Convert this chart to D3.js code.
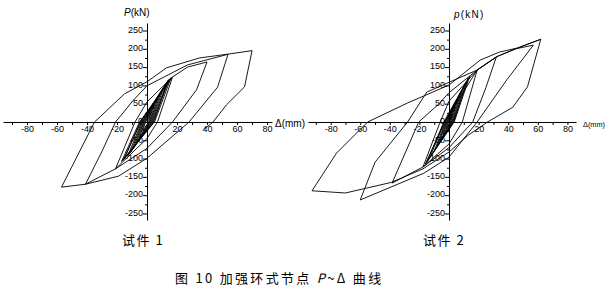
<!DOCTYPE html>
<html><head><meta charset="utf-8">
<script src="https://cdn.jsdelivr.net/npm/d3@7"></script>
<style>body{margin:0;background:#fff}svg{display:block}</style>
</head><body>
<svg id="c" width="612" height="296"></svg>
<script>
// ---- tick values ----
const xTicks = [-90,-80,-70,-60,-50,-40,-30,-20,-10,0,10,20,30,40,50,60,70,80];
const xLabels = [-80,-60,-40,-20,20,40,60,80];
const yTicks = [-250,-225,-200,-175,-150,-125,-100,-75,-50,-25,0,25,50,75,100,125,150,175,200,225,250];
const yLabels = [-250,-200,-150,-100,-50,0,50,100,150,200,250];

// ---- specimen 1 hysteresis path (displacement mm, load kN) ----
const s1Disp = [0,
  3,1,-3,-1, 5,1.5,-5,-1.5, 7,2,-7,-2, 9,2.5,-9,-2.5, 11,3,-11,-3, 13,3.5,-13,-3.5,
  15,4,-16,-4, 14,4.5,-15,-4.5, 16,5,-17,-5,
  17,7,0,-21,-8,0,17,27,40,
  33,17,0,-21,-41,
  -30,-21,-9,0,27,54,
  47,28,0,-19,-41,-57,
  -35,-15,0,13,35,55,70,
  65,53,44,38];
const s1Load = [0,
  28,0,-25,0, 45,0,-41,0, 62,0,-56,0, 78,0,-70,0, 93,0,-83,0, 106,0,-94,0,
  118,0,-105,0, 114,0,-100,0, 121,0,-108,0,
  123,0,-45,-128,0,55,123,150,164,
  88,0,-72,-128,-170,
  -80,0,60,99,156,185,
  95,0,-99,-148,-170,-178,
  0,77,110,148,175,186,195,
  96,47,0,-20];

// ---- specimen 2 hysteresis path ----
const s2Disp = [0,
  2,0.5,-2,-0.5, 4,1,-4,-1, 6,1.5,-6,-1.5, 8,2,-8,-2, 10,2.5,-10,-2.5,
  12,3,-13,-3, 14,3.5,-15,-3.5, 13,3,-16,-3,
  19,9,0,-17.6,-6,0,19,32,
  25,16,0,-17.6,-38.5,
  -20.5,-8,0,19,33,45,57,
  39,19,0,-17,-60,
  -50,-28,-15,19,32,47,62,
  53,43,26,13,0,-17.6,-39,-70,-92.6,
  -76,-55,-28,0,21,34,46,62];
const s2Load = [0,
  22,0,-18,0, 42,0,-34,0, 62,0,-50,0, 80,0,-65,0, 97,0,-80,0,
  112,0,-97,0, 125,0,-110,0, 120,0,-115,0,
  142,0,-60,-123,0,57,142,178,
  95,0,-70,-123,-167,
  0,45,80,142,180,200,210,
  115,0,-96,-140,-213,
  -110,0,82,142,178,203,226,
  96,40,0,-36,-82,-128,-165,-194,-188,
  -85,0,52,101,169,191,202,226];

// ---- captions ----
const axisTitles = [{y:"P", yRest:"(kN)", x:"Δ(mm)"}, {y:"p", yRest:"(kN)", x:"Δ(mm)"}];
const panelNames = ["试件 1", "试件 2"];

const svg = d3.select("#c");
const tickFont = "'Liberation Sans', Arial, sans-serif";

const panels = [
  {disp:s1Disp, load:s1Load, xr:[3,272], xd:[-96,83.3], yr:[220,23], yd:[-267.8,270.5],
   titleX:124, titleY:16, xTitleX:275, xTitleSize:10, xTitleLen:30, spacing:0, nameX:122},
  {disp:s2Disp, load:s2Load, xr:[308,576], xd:[-95.3,85.8], yr:[220,23], yd:[-267.8,270.5],
   titleX:454, titleY:18, xTitleX:583, xTitleSize:8, xTitleLen:22, spacing:1.2, nameX:423}
];

panels.forEach((p, i) => {
  const x = d3.scaleLinear().domain(p.xd).range(p.xr);
  const y = d3.scaleLinear().domain(p.yd).range(p.yr);
  const g = svg.append("g");

  // x axis at load = 0
  const xa = g.append("g").attr("transform", `translate(0,${y(0)})`)
    .call(d3.axisBottom(x).tickValues(xTicks).tickSize(3).tickSizeOuter(0)
      .tickFormat(d => xLabels.includes(d) ? d : ""));
  xa.select(".domain").attr("stroke", "#000").attr("stroke-width", 1);
  xa.selectAll(".tick line").attr("stroke", "#000");
  xa.selectAll(".tick text").attr("font-family", tickFont).attr("font-size", 9)
    .attr("fill", "#000").attr("y", 4);

  // y axis at disp = 0
  const ya = g.append("g").attr("transform", `translate(${x(0)},0)`)
    .call(d3.axisLeft(y).tickValues(yTicks).tickSizeOuter(0)
      .tickSize(0).tickFormat(d => yLabels.includes(d) ? d : ""));
  ya.select(".domain").attr("stroke", "#000").attr("stroke-width", 1);
  ya.selectAll(".tick line").attr("stroke", "#000")
    .attr("x2", d => yLabels.includes(d) ? -4 : -2);
  ya.selectAll(".tick text").attr("font-family", tickFont).attr("font-size", 9)
    .attr("fill", "#000").attr("x", -4).attr("dy", "0.2em");

  // hysteresis curve
  const pts = p.disp.map((d, k) => [d, p.load[k]]);
  g.append("path").datum(pts)
    .attr("fill", "none").attr("stroke", "#000").attr("stroke-width", 0.9)
    .attr("stroke-linejoin", "round")
    .attr("d", d3.line().x(d => x(d[0])).y(d => y(d[1])));

  // axis titles
  const t = g.append("text").attr("x", p.titleX).attr("y", p.titleY)
    .attr("font-family", tickFont).attr("font-size", 10).attr("letter-spacing", p.spacing);
  t.append("tspan").attr("font-style", "italic").text(axisTitles[i].y);
  t.append("tspan").text(axisTitles[i].yRest);
  g.append("text").attr("x", p.xTitleX).attr("y", y(0) + 5)
    .attr("font-family", tickFont).attr("font-size", p.xTitleSize)
    .attr("textLength", p.xTitleLen).attr("lengthAdjust", "spacingAndGlyphs")
    .text(axisTitles[i].x);

  // panel name
  g.append("text").attr("x", p.nameX).attr("y", 245)
    .attr("font-family", "'Noto Sans CJK SC', sans-serif").attr("font-size", 13)
    .attr("letter-spacing", 1.5)
    .text(panelNames[i]);
});

// figure caption
const cap = svg.append("text").attr("x", 175).attr("y", 283)
  .attr("font-family", "'Noto Sans CJK SC', sans-serif").attr("font-size", 13)
  .attr("letter-spacing", 2.3);
cap.append("tspan").text("图 10 加强环式节点 ");
cap.append("tspan").attr("font-style", "italic").text("P");
cap.append("tspan").text("~Δ 曲线");
</script>
</body></html>
